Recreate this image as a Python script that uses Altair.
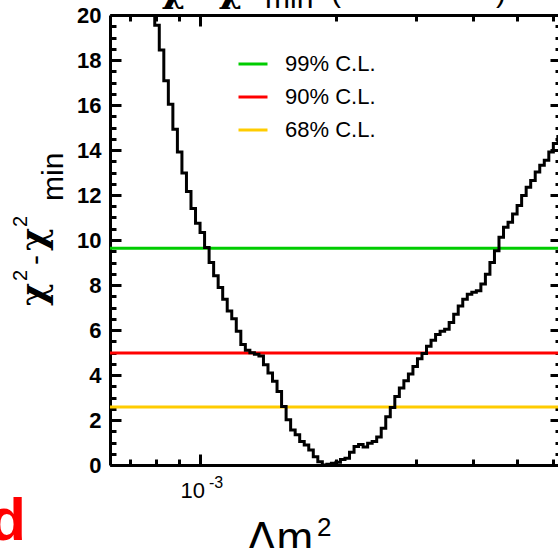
import altair as alt
import pandas as pd

FONT = "Liberation Sans"
GREEK = "DejaVu Serif"

# ---------------- data ----------------
# histogram binning (log10 of dm2): first lower edge and bin width
log_first_edge = -3.13
log_bin_width = 0.01
chi2_values = [
    23.5, 22.2, 20.9, 19.55, 18.45, 17.08, 16.03, 14.92, 13.91, 12.98,
    12.16, 11.40, 10.75, 10.33, 9.67, 9.00, 8.41, 7.89, 7.37, 6.85,
    6.50, 5.95, 5.36, 5.10, 4.99, 4.92, 4.84, 4.46, 4.09, 3.72,
    3.27, 2.60, 2.01, 1.56, 1.34, 1.04, 0.89, 0.67, 0.37, 0.15,
    0.00, 0.03, 0.08, 0.12, 0.24, 0.30, 0.57, 0.82, 0.91, 0.80,
    0.97, 1.04, 1.24, 1.63, 2.14, 2.56, 3.05, 3.42, 3.74, 4.05,
    4.38, 4.72, 4.96, 5.28, 5.55, 5.80, 5.95, 6.03, 6.33, 6.70,
    7.07, 7.37, 7.59, 7.68, 7.74, 8.04, 8.48, 9.00, 9.52, 10.12,
    10.57, 10.79, 11.16, 11.53, 11.98, 12.35, 12.65, 13.02, 13.32, 13.54,
    13.91, 14.29, 14.60,
]
cl_labels = ["99% C.L.", "90% C.L.", "68% C.L."]
cl_levels = [9.63, 4.98, 2.58]
cl_colors = ["#00cc00", "#ff0000", "#ffcc00"]

x_domain = [6.327e-4, 6.17e-3]
y_domain = [0, 20]
y_major = [0, 2, 4, 6, 8, 10, 12, 14, 16, 18, 20]
y_minor = [i * 0.5 for i in range(41)]
x_major = [1e-3]
x_minor = [7e-4, 8e-4, 9e-4, 2e-3, 3e-3, 4e-3, 5e-3, 6e-3]
x_label_value = [1e-3]
x_label_main = ["10"]
x_label_exp = ["-3"]

ytitle_parts = ["χ", "2", "-", "χ", "2", "min"]
title_parts = ["χ", "2", "-", "χ", "2", "min", "(", ")"]
xtitle_parts = ["Δm", "2"]
panel_label = ["d"]

# ---------------- build ----------------
W, H = 448, 450

edges = [10 ** (log_first_edge + log_bin_width * i) for i in range(len(chi2_values) + 1)]
curve_df = pd.DataFrame({"dm2": edges, "chi2": chi2_values + [chi2_values[-1]]})
cl_df = pd.DataFrame({"label": cl_labels, "level": cl_levels})

xs = alt.Scale(type="log", domain=x_domain, nice=False)
ys = alt.Scale(domain=y_domain, nice=False, zero=False)

main = alt.Chart(curve_df).mark_line(
    interpolate="step-after", color="black", strokeWidth=3, clip=True, strokeJoin="miter"
).encode(
    x=alt.X("dm2:Q", scale=xs, axis=alt.Axis(orient="bottom", labels=False, ticks=False,
                                            domain=True, domainColor="black", domainWidth=3,
                                            grid=False, title=None)),
    y=alt.Y("chi2:Q", scale=ys, axis=alt.Axis(orient="left", values=y_major, ticks=False,
                                             domain=True, domainColor="black", domainWidth=3,
                                             labelFont=FONT, labelFontSize=22, labelFontWeight="bold",
                                             labelColor="black", labelPadding=9, grid=False, title=None)),
)


def tick_axis(orient, values, size, offset, domain=False):
    return alt.Axis(orient=orient, values=values, tickSize=size, tickWidth=3, tickColor="black",
                    offset=offset, labels=False, domain=domain, domainColor="black", domainWidth=3,
                    grid=False, title=None, ticks=True)


def tick_layer(xaxis, yaxis):
    return alt.Chart(curve_df).mark_line(opacity=0).encode(
        x=alt.X("dm2:Q", scale=xs, axis=xaxis),
        y=alt.Y("chi2:Q", scale=ys, axis=yaxis),
    )


t1 = tick_layer(tick_axis("top", x_major, 11, -H), tick_axis("right", y_major, 11, -W))
t2 = tick_layer(tick_axis("top", x_minor, 6, -H), tick_axis("right", y_minor, 6, -W))
t3 = tick_layer(tick_axis("bottom", x_major, 11, -H, domain=True), tick_axis("left", y_major, 8, -W))
t4 = tick_layer(tick_axis("bottom", x_minor, 6, -H), tick_axis("left", y_minor, 3, -W))

cl = alt.Chart(cl_df).mark_rule(strokeWidth=3).encode(
    y=alt.Y("level:Q", scale=ys, axis=None),
    color=alt.Color("label:N", scale=alt.Scale(domain=cl_labels, range=cl_colors),
                    legend=alt.Legend(orient="none", legendX=127, legendY=33, title=None,
                                      symbolType="stroke", symbolSize=841, symbolStrokeWidth=3,
                                      labelFont=FONT, labelFontSize=22, labelColor="black",
                                      labelOffset=16, rowPadding=6, padding=0)),
)


def text_layer(txt, x, y, size, angle=0, weight="normal", color="black", align="left", font=FONT):
    return alt.Chart(pd.DataFrame({"t": [txt]})).mark_text(
        align=align, baseline="alphabetic", fontSize=size, font=font, fontWeight=weight,
        color=color, angle=angle
    ).encode(text="t:N", x=alt.value(x), y=alt.value(y))


# x tick label 10^-3 placed through the x scale
xlab_df = pd.DataFrame({"v": x_label_value, "m": x_label_main, "e": x_label_exp})
xlab_main = alt.Chart(xlab_df).mark_text(
    align="right", baseline="alphabetic", fontSize=22, font=FONT, color="black", dx=5
).encode(x=alt.X("v:Q", scale=xs, axis=None), y=alt.value(483), text="m:N")
xlab_exp = alt.Chart(xlab_df).mark_text(
    align="left", baseline="alphabetic", fontSize=16, font=FONT, color="black", dx=9
).encode(x=alt.X("v:Q", scale=xs, axis=None), y=alt.value(473), text="e:N")

# y title (rotated)
yt = [
    text_layer(ytitle_parts[0], -64, 291, 35, angle=270, font=GREEK, weight="bold"),
    text_layer(ytitle_parts[1], -83, 266, 20, angle=270),
    text_layer(ytitle_parts[2], -65, 250, 30, angle=270),
    text_layer(ytitle_parts[3], -64, 236, 35, angle=270, font=GREEK, weight="bold"),
    text_layer(ytitle_parts[4], -83, 212, 20, angle=270),
    text_layer(ytitle_parts[5], -47, 186, 30, angle=270),
]

# cut-off title at the top
tt = [
    text_layer(title_parts[0], 52, -13, 35, font=GREEK, weight="bold"),
    text_layer(title_parts[1], 77, -27, 20),
    text_layer(title_parts[2], 91, -13, 30),
    text_layer(title_parts[3], 109, -13, 35, font=GREEK, weight="bold"),
    text_layer(title_parts[4], 135, -27, 20),
    text_layer(title_parts[5], 155, -7.5, 30),
    text_layer(title_parts[6], 221, -13, 30),
    text_layer(title_parts[7], 386, -13, 30),
]

# x title (cut at bottom) and panel label
xt = [
    text_layer(xtitle_parts[0], 137, 537.5, 44),
    text_layer(xtitle_parts[1], 207, 521, 26),
]
pl = text_layer(panel_label[0], -84, 525, 60, weight="bold", color="#ff0000", align="right")

chart = alt.layer(
    cl, main, t1, t2, t3, t4, xlab_main, xlab_exp, *yt, *tt, *xt, pl
).resolve_axis(
    x="independent", y="independent"
).properties(
    width=W, height=H,
    autosize=alt.AutoSizeParams(type="none"),
    padding={"left": 110, "top": 15, "right": 0, "bottom": 83},
    background="white",
).configure_view(stroke=None)

chart.save("out.html", embed_options={"renderer": "svg", "actions": False})
